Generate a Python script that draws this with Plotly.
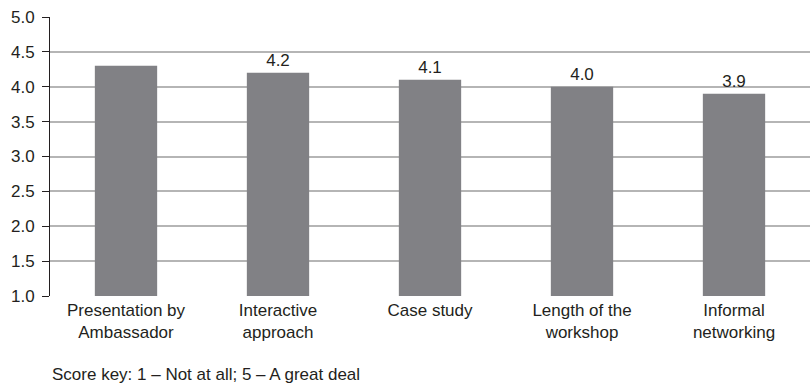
import plotly.graph_objects as go

categories = ["Presentation by<br>Ambassador", "Interactive<br>approach", "Case study",
              "Length of the<br>workshop", "Informal<br>networking"]
scores = [4.3, 4.2, 4.1, 4.0, 3.9]
# the first bar carries no value label
shown_labels = ["", "4.2", "4.1", "4.0", "3.9"]
y_ticks = [1.0, 1.5, 2.0, 2.5, 3.0, 3.5, 4.0, 4.5, 5.0]

FONT = "Liberation Sans, Arial, sans-serif"
TXT = "#231f20"
SIZE = 17

fig = go.Figure(go.Bar(
    x=categories,
    y=scores,
    text=shown_labels,
    textposition="outside",
    textfont=dict(family=FONT, size=SIZE, color=TXT),
    cliponaxis=False,
    marker=dict(color="#818185", line=dict(width=0)),
    width=0.41,
))

fig.update_layout(
    width=812, height=387,
    margin=dict(l=50, r=2, t=17, b=91),
    paper_bgcolor="white", plot_bgcolor="white",
    showlegend=False,
    font=dict(family=FONT, size=SIZE, color=TXT),
    xaxis=dict(
        showgrid=False, showline=False, ticks="",
        tickfont=dict(family=FONT, size=SIZE, color=TXT),
        ticklabelstandoff=2,
    ),
    yaxis=dict(
        range=[1.0, 5.0],
        tickvals=y_ticks,
        ticktext=[f"{v:.1f}" for v in y_ticks],
        showgrid=True, gridcolor="#b5b5b5", gridwidth=1.5,
        showline=True, linecolor=TXT, linewidth=1,
        ticks="outside", ticklen=7, tickcolor=TXT,
        tickfont=dict(family=FONT, size=SIZE, color=TXT),
        ticklabelstandoff=4,
        zeroline=False,
    ),
    annotations=[dict(
        text="Score key: 1 – Not at all; 5 – A great deal",
        xref="paper", yref="paper", x=0.0, y=-0.282,
        xanchor="left", yanchor="middle", showarrow=False,
        font=dict(family=FONT, size=SIZE, color=TXT),
    )],
)

fig.write_html("out.html")
